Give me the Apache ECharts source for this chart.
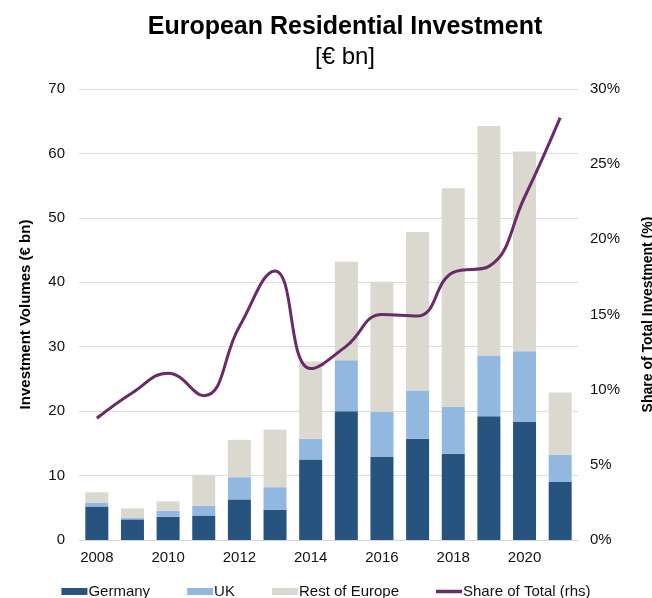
<!DOCTYPE html>
<html>
<head>
<meta charset="utf-8">
<script src="https://cdn.jsdelivr.net/npm/echarts@6/dist/echarts.min.js"></script>
<style>
  html, body { margin: 0; padding: 0; background: #fff; overflow: hidden; }
  #chart { width: 652px; height: 598px; }
</style>
</head>
<body>
<div id="chart"></div>
<script>
// European residential investment volumes by region (€ bn) and share of total investment (%)
const years = ['2008','2009','2010','2011','2012','2013','2014','2015','2016','2017','2018','2019','2020','2021'];
const germany = [5.2, 3.2, 3.6, 3.8, 6.3, 4.7, 12.5, 20.0, 12.9, 15.7, 13.4, 19.2, 18.3, 9.0];
const uk = [0.55, 0.2, 0.95, 1.5, 3.45, 3.5, 3.2, 7.9, 7.0, 7.5, 7.3, 9.45, 11.0, 4.2];
const restOfEurope = [1.65, 1.5, 1.45, 4.8, 5.8, 8.9, 12.0, 15.3, 20.2, 24.6, 33.9, 35.6, 31.0, 9.7];
const shareOfTotal = [8.1, 9.8, 11.1, 9.6, 14.2, 17.9, 11.4, 12.9, 15.0, 14.9, 17.8, 18.2, 22.8, 28.1];

const FONT = '"Liberation Sans", Arial, Helvetica, sans-serif';
const chart = echarts.init(document.getElementById('chart'), null, { renderer: 'canvas' });

const barBase = { type: 'bar', stack: 'vol', barWidth: 23, yAxisIndex: 0 };

chart.setOption({
  animation: false,
  textStyle: { fontFamily: FONT },
  title: [
    {
      text: 'European Residential Investment',
      left: 340, top: 10, textAlign: 'center',
      textStyle: { fontFamily: FONT, fontSize: 25, fontWeight: 'bold', color: '#000' }
    },
    {
      text: '[€ bn]',
      left: 340, top: 40, textAlign: 'center',
      textStyle: { fontFamily: FONT, fontSize: 24, fontWeight: 'normal', color: '#000' }
    }
  ],
  grid: { left: 79, right: 74, top: 89, bottom: 58, containLabel: false, outerBoundsMode: 'none' },
  legend: {
    left: 'center', top: 579,
    itemWidth: 26, itemHeight: 7, itemGap: 37,
    textStyle: { fontFamily: FONT, fontSize: 15, color: '#111', padding: [0, 0, 0, -4] },
    data: [
      { name: 'Germany', icon: 'rect' },
      { name: 'UK', icon: 'rect' },
      { name: 'Rest of Europe', icon: 'rect' },
      { name: 'Share of Total (rhs)', icon: 'path://M0,0 L26,0 L26,3.5 L0,3.5 Z' }
    ]
  },
  xAxis: {
    type: 'category',
    data: years,
    axisTick: { show: false },
    axisLine: { show: true, lineStyle: { color: '#d9d9d9' } },
    axisLabel: { interval: 1, fontFamily: FONT, fontSize: 15, color: '#111', margin: 10 }
  },
  yAxis: [
    {
      type: 'value', min: 0, max: 70, interval: 10,
      name: 'Investment Volumes (€ bn)',
      nameLocation: 'middle', nameRotate: 90, nameGap: 46,
      nameTextStyle: { fontFamily: FONT, fontSize: 15, fontWeight: 'bold', color: '#000' },
      axisLine: { show: false }, axisTick: { show: false },
      axisLabel: { fontFamily: FONT, fontSize: 15, color: '#111', margin: 14 },
      splitLine: { lineStyle: { color: '#dcdcdc', width: 1 } }
    },
    {
      type: 'value', min: 0, max: 30, interval: 5,
      name: 'Share of Total Investment (%)',
      nameLocation: 'middle', nameRotate: 90, nameGap: 63,
      nameTextStyle: { fontFamily: FONT, fontSize: 14, fontWeight: 'bold', color: '#000' },
      axisLine: { show: false }, axisTick: { show: false },
      axisLabel: { fontFamily: FONT, fontSize: 15, color: '#111', margin: 12, formatter: '{value}%' },
      splitLine: { show: false }
    }
  ],
  series: [
    Object.assign({}, barBase, { name: 'Germany', data: germany, itemStyle: { color: '#27537f' } }),
    Object.assign({}, barBase, { name: 'UK', data: uk, itemStyle: { color: '#92b8e0' } }),
    Object.assign({}, barBase, { name: 'Rest of Europe', data: restOfEurope, itemStyle: { color: '#dad8cf' } }),
    {
      name: 'Share of Total (rhs)', type: 'line', yAxisIndex: 1,
      data: shareOfTotal, smooth: 0.45, symbol: 'none',
      lineStyle: { color: '#6a2b68', width: 3 },
      itemStyle: { color: '#6a2b68' },
      z: 5
    }
  ]
});
</script>
</body>
</html>
